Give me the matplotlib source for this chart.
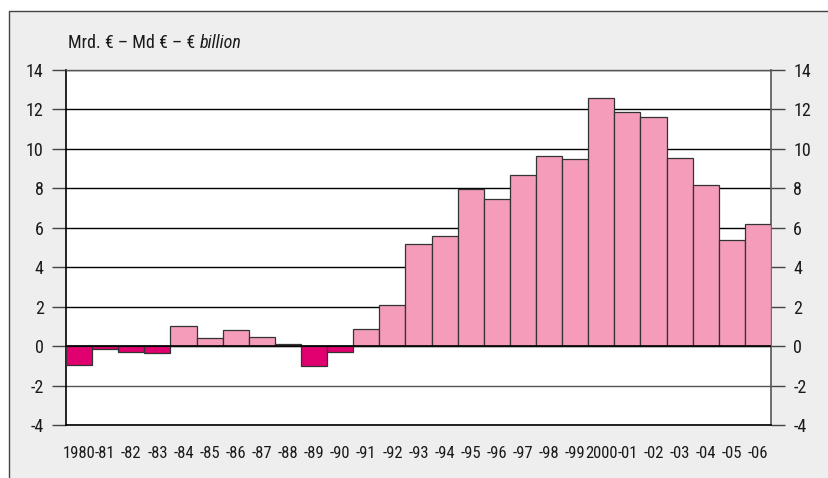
import matplotlib
matplotlib.use("Agg")
import matplotlib.pyplot as plt
from matplotlib.patches import Rectangle

plt.rcParams['font.family'] = ['Roboto Condensed', 'DejaVu Sans']
plt.rcParams['text.color'] = '#1a1a1a'
plt.rcParams['xtick.labelcolor'] = '#1a1a1a'
plt.rcParams['ytick.labelcolor'] = '#1a1a1a'

years = ['1980', '-81', '-82', '-83', '-84', '-85', '-86', '-87', '-88', '-89',
         '-90', '-91', '-92', '-93', '-94', '-95', '-96', '-97', '-98', '-99',
         '2000', '-01', '-02', '-03', '-04', '-05', '-06']
values = [-0.95, -0.17, -0.32, -0.37, 1.03, 0.39, 0.81, 0.44, 0.12, -1.0,
          -0.32, 0.85, 2.1, 5.2, 5.6, 7.95, 7.45, 8.7, 9.65, 9.5,
          12.6, 11.85, 11.6, 9.55, 8.15, 5.4, 6.2]
yticks = [-4, -2, 0, 2, 4, 6, 8, 10, 12, 14]

pos_color = '#f49cb9'
neg_color = '#e0006f'

fig = plt.figure(figsize=(8.29, 4.78), dpi=100)
fig.patch.set_facecolor('white')

# grey panel with a frame on the left and top only
panel = Rectangle((9 / 829, -0.05), 1.1, 1 - 11 / 478 + 0.05, transform=fig.transFigure,
                  facecolor='#eeeeee', edgecolor='#444444', linewidth=1.0, zorder=-1)
fig.add_artist(panel)

ax = fig.add_axes([66 / 829, 1 - 425 / 478, (771 - 66) / 829, (425 - 70) / 478])
ax.set_facecolor('white')

x = list(range(len(years)))
colors = [pos_color if v >= 0 else neg_color for v in values]
ax.bar(x, values, width=1.0, color=colors, edgecolor='#333333', linewidth=0.9, zorder=3)

ax.set_xlim(-0.5, len(years) - 0.5)
ax.set_ylim(-4, 14)
ax.set_yticks(yticks)
ax.set_yticklabels([str(t) for t in yticks])
ax.set_xticks(x)
ax.set_xticklabels(years)

for t in yticks:
    ax.axhline(t, color='black' if t != -2 else '#555555', linewidth=1.0, zorder=1)
ax.axhline(0, color='black', linewidth=1.2, zorder=4)

ax.tick_params(axis='y', which='both', left=True, right=True, labelleft=True, labelright=True,
               direction='out', length=10, width=1, color='#444444', labelsize=13, pad=6)
ax.tick_params(axis='x', length=0, labelsize=12, pad=15)

for side in ['left', 'bottom']:
    ax.spines[side].set_color('black')
    ax.spines[side].set_linewidth(1.2)
ax.spines['right'].set_color('#555555')
ax.spines['right'].set_linewidth(1.2)
ax.spines['top'].set_color('#555555')
ax.spines['top'].set_linewidth(1.0)

unit = fig.text(68 / 829, 1 - 48 / 478, 'Mrd. € – Md € – € ', fontsize=13, va='baseline', ha='left')
fig.canvas.draw()
ax.annotate('billion', xy=(1, 0), xycoords=unit, va='bottom', ha='left',
            fontsize=13, fontstyle='italic', annotation_clip=False)

fig.savefig('out.png', dpi=100, facecolor=fig.get_facecolor())
